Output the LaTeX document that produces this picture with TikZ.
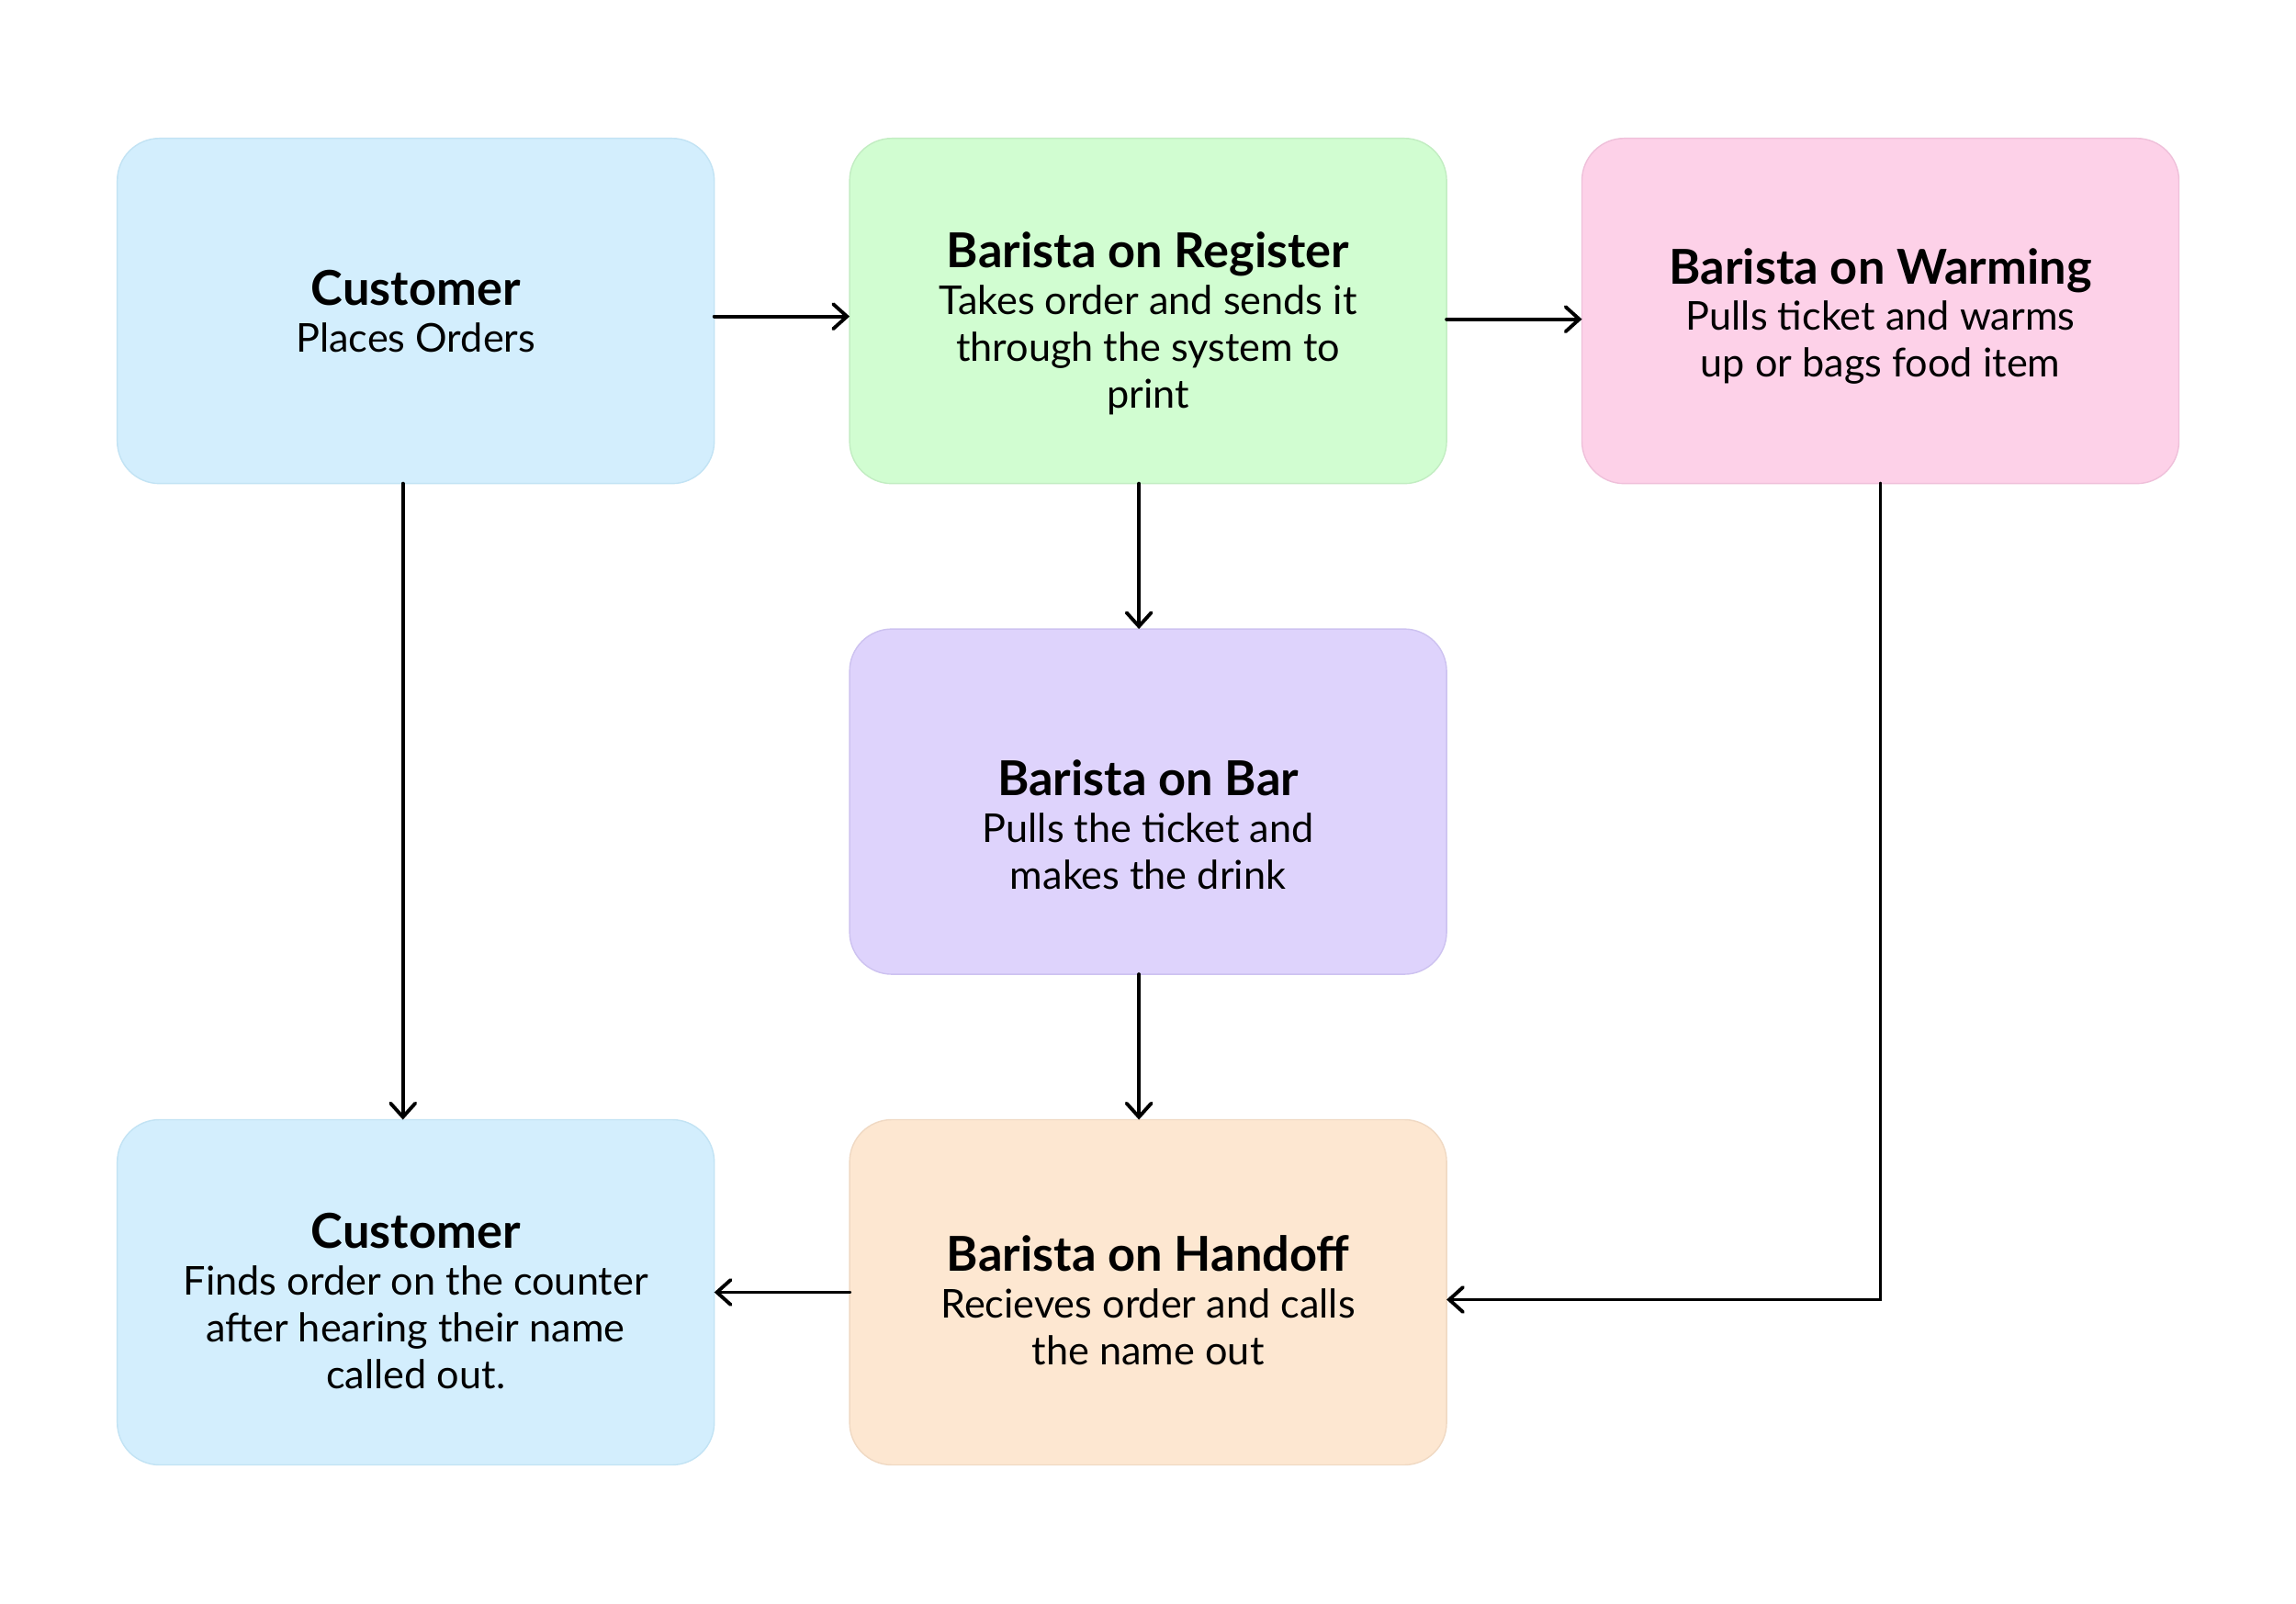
\documentclass[tikz,border=0pt]{standalone}
\usepackage{fontspec}
\setmainfont{Lato}
\usetikzlibrary{matrix,arrows.meta}

\definecolor{custfill}{HTML}{D3EEFD}
\definecolor{custline}{HTML}{C2E3F4}
\definecolor{regfill}{HTML}{D1FDD1}
\definecolor{regline}{HTML}{C2EDC2}
\definecolor{warmfill}{HTML}{FDD1E8}
\definecolor{warmline}{HTML}{EFC0DA}
\definecolor{barfill}{HTML}{DED3FC}
\definecolor{barline}{HTML}{CDC2F0}
\definecolor{handfill}{HTML}{FDE7D1}
\definecolor{handline}{HTML}{F0D9C3}

\tikzset{
	stage/.style = {rounded corners=0.46cm, line width=0.4pt, anchor=center,
		minimum width=6.5cm, minimum height=3.76cm, inner sep=0pt,
		font=\fontsize{12.3}{14.5}\selectfont},
	flow/.style = {line width=1.1pt, line cap=round,
		-{Straight Barb[length=0.15cm, width=0.27cm, line cap=round]}},
}
% optional argument pushes the text block down
\newcommand{\stagetext}[3][0cm]{\raisebox{0pt}[\dimexpr\height+#1\relax][\depth]{%
	\begin{tabular}{@{}c@{}}{\fontsize{14.9}{14.5}\selectfont\bfseries #2}\\#3\end{tabular}}}

\begin{document}
\begin{tikzpicture}
		\useasboundingbox[fill=white] (0,0) rectangle (25,17.47);
		\matrix (m) [matrix of nodes, anchor=north west, inner sep=0pt, outer sep=0pt,
			row sep = 1.57cm, column sep = 1.46cm, nodes={stage}] at (1.27,15.97)
		{
			|[fill=custfill, draw=custline]| \stagetext[0.15cm]{Customer}{Places Orders}
			& |[fill=regfill, draw=regline]| \stagetext[0.35cm]{Barista on Register}{Takes order and sends it\\through the system to\\print}
			& |[fill=warmfill, draw=warmline]| \stagetext[0.19cm]{Barista on Warming}{Pulls ticket and warms\\up or bags food item} \\
			& |[fill=barfill, draw=barline]| \stagetext[0.66cm]{Barista on Bar}{Pulls the ticket and\\makes the drink}
			& \\
			|[fill=custfill, draw=custline]| \stagetext[0.34cm]{Customer}{Finds order on the counter\\after hearing their name\\called out.}
			& |[fill=handfill, draw=handline]| \stagetext[0.32cm]{Barista on Handoff}{Recieves order and calls\\the name out}
			& \\
		};
		\path[flow]
			([yshift=-0.06cm]m-1-1.east) edge ([yshift=-0.06cm]m-1-2.west) % customer to register
			([yshift=-0.09cm]m-1-2.east) edge ([yshift=-0.09cm]m-1-3.west) % register to warming
			([xshift=-0.14cm]m-1-1.south) edge ([xshift=-0.14cm]m-3-1.north) % customer waits
			([xshift=-0.1cm]m-1-2.south) edge ([xshift=-0.1cm]m-2-2.north) % register to bar
			([xshift=-0.1cm]m-2-2.south) edge ([xshift=-0.1cm]m-3-2.north) % bar to handoff
			(m-3-2.west) edge (m-3-1.east) % handoff to customer
			;
		\draw[flow] (m-1-3.south) |- ([yshift=-0.08cm]m-3-2.east); % warming to handoff
\end{tikzpicture}
\end{document}
